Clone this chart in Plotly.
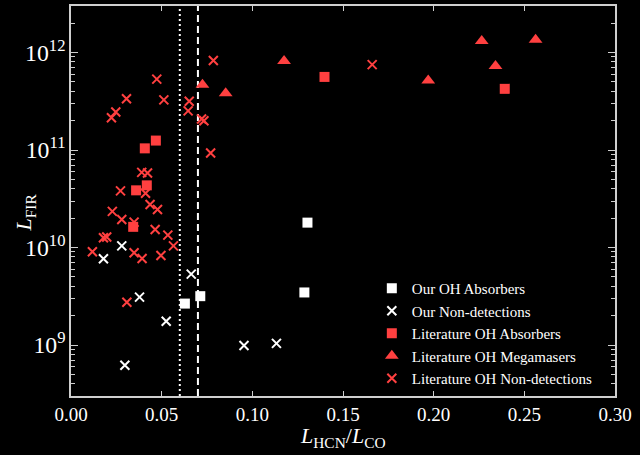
import numpy as np
import plotly.graph_objects as go

# ---- data ----
our_abs_x = [0.0628, 0.0713, 0.1287, 0.1304]
our_abs_y = [2.66e9, 3.17e9, 3.46e9, 1.80e10]

our_non_x = [0.0280, 0.0179, 0.0663, 0.0378, 0.0525, 0.0954, 0.0297, 0.1133]
our_non_y = [1.04e10, 7.66e9, 5.33e9, 3.10e9, 1.75e9, 0.99e9, 6.2e8, 1.04e9]

lit_abs_x = [0.0468, 0.0407, 0.0418, 0.0359, 0.0343, 0.1398, 0.2392]
lit_abs_y = [1.25e11, 1.04e11, 4.34e10, 3.86e10, 1.63e10, 5.62e11, 4.24e11]

lit_mm_x = [0.0725, 0.0853, 0.1175, 0.1970, 0.2265, 0.2341, 0.2562]
lit_mm_y = [4.66e11, 3.83e11, 8.2e11, 5.15e11, 1.31e12, 7.29e11, 1.35e12]

lit_non_x = [0.0785, 0.0473, 0.0306, 0.0512, 0.0652, 0.0646, 0.0247, 0.0223,
             0.0720, 0.0733, 0.0770, 0.0390, 0.0422, 0.0273, 0.0411, 0.0436,
             0.0477, 0.0228, 0.0280, 0.0348, 0.0464, 0.0534, 0.0179, 0.0197,
             0.0565, 0.0118, 0.0348, 0.0496, 0.0392, 0.0308, 0.1661]
lit_non_y = [8.27e11, 5.33e11, 3.35e11, 3.27e11, 3.17e11, 2.52e11, 2.45e11, 2.14e11,
             2.08e11, 2.00e11, 9.31e10, 5.90e10, 5.82e10, 3.81e10, 3.60e10, 2.76e10,
             2.45e10, 2.35e10, 1.94e10, 1.82e10, 1.53e10, 1.34e10, 1.26e10, 1.28e10,
             1.04e10, 9.04e9, 8.83e9, 8.28e9, 7.71e9, 2.75e9, 7.52e11]

dotted_line_x = 0.06
dashed_line_x = 0.07

series_names = ["Our OH Absorbers", "Our Non-detections", "Literature OH Absorbers",
                "Literature OH Megamasers", "Literature OH Non-detections"]

x_title = "<i>L</i><sub>HCN</sub>/<i>L</i><sub>CO</sub>"
y_title = "<i>L</i><sub>FIR</sub>"

x_range = [0.0, 0.30]
y_range = [3e8, 3e12]

# ---- styling ----
WHITE = "#ffffff"
RED = "#ff4040"
FONT = "Liberation Serif"
AXC = "#cfcfcf"

fig = go.Figure()

def add(x, y, name, color, symbol, size, lw=0):
    marker = dict(color=color, symbol=symbol, size=size)
    if symbol.startswith("x"):
        marker["line"] = dict(color=color, width=lw)
    else:
        marker["line"] = dict(width=0)
    fig.add_trace(go.Scatter(x=x, y=y, mode="markers", name=name, marker=marker))

add(our_abs_x, our_abs_y, series_names[0], WHITE, "square", 10)
add(our_non_x, our_non_y, series_names[1], WHITE, "x-thin", 9, 2)
add(lit_abs_x, lit_abs_y, series_names[2], RED, "square", 10)
add(lit_mm_x, lit_mm_y, series_names[3], RED, "triangle-up", 12)
add(lit_non_x, lit_non_y, series_names[4], RED, "x-thin", 9, 2)

fig.add_vline(x=dotted_line_x, line=dict(color=WHITE, width=2, dash="2px,3px"), layer="below")
fig.add_vline(x=dashed_line_x, line=dict(color=WHITE, width=2, dash="7px,4px"), layer="below")

fig.update_layout(
    width=640, height=455,
    margin=dict(l=71, r=25, t=6, b=59, autoexpand=False),
    paper_bgcolor="black", plot_bgcolor="black",
    font=dict(family=FONT, color=WHITE, size=19),
    showlegend=True,
    legend=dict(x=0.553, y=0.318, xanchor="left", yanchor="top",
                bgcolor="rgba(0,0,0,0)", borderwidth=0,
                font=dict(family=FONT, size=15, color=WHITE)),
    annotations=[
        dict(text=x_title, xref="paper", yref="paper", x=0.5, y=-0.105,
             xanchor="center", yanchor="middle", showarrow=False,
             font=dict(family=FONT, size=22, color=WHITE)),
        dict(text=y_title, xref="paper", yref="paper", x=-0.085, y=0.47,
             xanchor="center", yanchor="middle", showarrow=False, textangle=-90,
             font=dict(family=FONT, size=22, color=WHITE)),
    ],
)

fig.update_xaxes(
    range=x_range, dtick=0.05, tickformat=".2f",
    showgrid=False, zeroline=False,
    showline=True, linecolor=AXC, linewidth=1.5, mirror="allticks",
    ticks="inside", ticklen=5, tickcolor=AXC, tickwidth=1,
    tickfont=dict(family=FONT, size=19, color=WHITE),
)
fig.update_yaxes(
    type="log", range=[np.log10(y_range[0]), np.log10(y_range[1])], dtick=1,
    exponentformat="power", showexponent="all",
    showgrid=False, zeroline=False,
    showline=True, linecolor=AXC, linewidth=1.5, mirror="allticks",
    ticks="inside", ticklen=7, tickcolor=AXC, tickwidth=1,
    minor=dict(ticks="inside", ticklen=4, tickcolor=AXC, showgrid=False),
    tickfont=dict(family=FONT, size=19, color=WHITE),
)

fig.write_html("out.html", config={"displayModeBar": False},
               post_script="document.body.style.margin='0';document.body.style.padding='0';")
